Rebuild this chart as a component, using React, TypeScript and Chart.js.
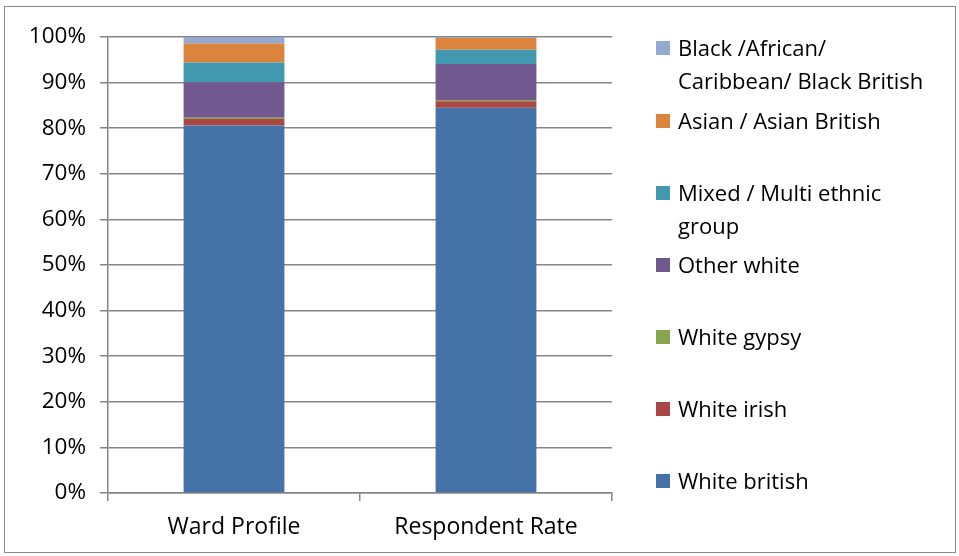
import React, { useEffect, useRef } from "react";
import { Chart, registerables } from "chart.js";
Chart.register(...registerables);

const categories = ["Ward Profile", "Respondent Rate"];
const seriesNames = [
  "White british",
  "White irish",
  "White gypsy",
  "Other white",
  "Mixed / Multi ethnic group",
  "Asian / Asian British",
  "Black /African/ Caribbean/ Black British",
];
const whiteBritish = [80.6, 84.5];
const whiteIrish = [1.4, 1.4];
const whiteGypsy = [0.3, 0.3];
const otherWhite = [7.8, 7.9];
const mixed = [4.3, 3.1];
const asian = [4.2, 2.6];
const black = [1.4, 0.2];
const yTicks = [0, 10, 20, 30, 40, 50, 60, 70, 80, 90, 100];

const colors = ["#4572A7", "#AA4643", "#89A54E", "#71588F", "#4198AF", "#DB843D", "#93A9CF"];
const legendLines = [
  ["Black /African/", "Caribbean/ Black British"],
  ["Asian / Asian British"],
  ["Mixed / Multi ethnic", "group"],
  ["Other white"],
  ["White gypsy"],
  ["White irish"],
  ["White british"],
];
const legendTops = [31, 104, 176, 248, 320, 392, 464];

const FONT = "'Open Sans', sans-serif";

export default function App() {
  const ref = useRef<HTMLCanvasElement>(null);
  useEffect(() => {
    const values = [whiteBritish, whiteIrish, whiteGypsy, otherWhite, mixed, asian, black];
    const chart = new Chart(ref.current!, {
      type: "bar",
      data: {
        labels: categories,
        datasets: values.map((v, i) => ({
          label: seriesNames[i],
          data: v,
          backgroundColor: colors[i],
          borderWidth: 0,
          barPercentage: 0.8,
          categoryPercentage: 0.5,
        })),
      },
      options: {
        animation: false,
        responsive: false,
        maintainAspectRatio: false,
        layout: { padding: { left: 0, right: 347, top: 37, bottom: 0 } },
        plugins: { legend: { display: false }, tooltip: { enabled: false } },
        scales: {
          x: {
            stacked: true,
            grid: {
              offset: true,
              drawOnChartArea: false,
              drawTicks: true,
              tickLength: 8,
              color: "#868686",
              lineWidth: 1.5,
            },
            border: { color: "#868686", width: 1.5 },
            ticks: { color: "#000", font: { family: FONT, size: 23 }, padding: 13 },
            afterFit: (s: any) => { s.height = 63; },
          },
          y: {
            stacked: true,
            min: 0,
            max: 100,
            afterBuildTicks: (s: any) => { s.ticks = yTicks.map((v) => ({ value: v })); },
            grid: { color: "#868686", lineWidth: 1.5, tickLength: 8 },
            border: { color: "#868686", width: 1.5 },
            ticks: {
              color: "#000",
              font: { family: FONT, size: 22.5 },
              padding: 14,
              callback: (v: any) => v + "%",
            },
            afterFit: (s: any) => { s.width = 108; },
          },
        },
      },
    });
    return () => chart.destroy();
  }, []);
  return (
    <div style={{ position: "fixed", left: 0, top: 0, width: 959, height: 556, background: "#fff" }}>
      <div style={{ position: "absolute", left: 4, top: 6, width: 950, height: 545, border: "1px solid #8a8a8a" }} />
      <canvas ref={ref} width={959} height={556} style={{ position: "absolute", left: 0, top: 0, width: 959, height: 556 }} />
      {legendLines.map((lines, i) => (
        <div key={i} style={{ position: "absolute", left: 656, top: legendTops[i], fontFamily: FONT, fontSize: 22, lineHeight: "33px", color: "#000" }}>
          <span style={{ position: "absolute", left: 0, top: 10, width: 14, height: 14, background: colors[6 - i] }} />
          {lines.map((t, j) => (
            <div key={j} style={{ marginLeft: 22, whiteSpace: "nowrap" }}>{t}</div>
          ))}
        </div>
      ))}
    </div>
  );
}
